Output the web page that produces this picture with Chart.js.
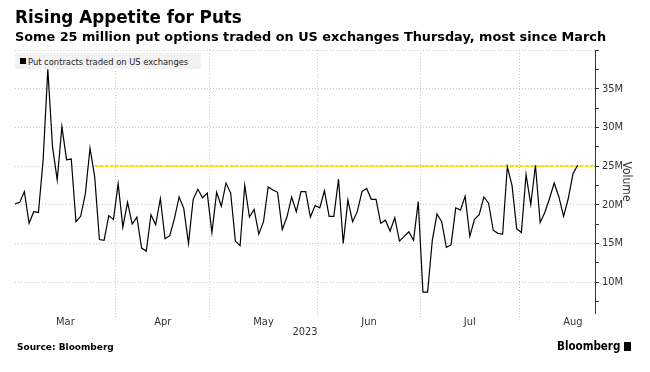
<!DOCTYPE html>
<html>
<head>
<meta charset="utf-8">
<script src="https://cdn.jsdelivr.net/npm/chart.js@4.4.0/dist/chart.umd.min.js"></script>
<style>
  body { margin: 0; background: #fff; }
  .wrap { position: relative; width: 650px; height: 372px; overflow: hidden; font-family: 'DejaVu Sans', Verdana, sans-serif; }
  #myChart { position: absolute; left: 0; top: 0; }
  .title { position: absolute; left: 15px; top: 7px; font-weight: bold; font-size: 16.8px; color: #000; white-space: nowrap; }
  .subtitle { position: absolute; left: 15px; top: 29px; font-weight: bold; font-size: 12.85px; color: #000; white-space: nowrap; }
  #legend-container { position: absolute; left: 15px; top: 53px; width: 186px; height: 16px; background: #f2f2f2; }
  #legend-container ul { list-style: none; margin: 0; padding: 0 0 0 5px; }
  #legend-container li { display: flex; align-items: center; height: 16px; font-size: 9.3px; color: #222; font-family: 'DejaVu Sans Condensed', 'DejaVu Sans', sans-serif; }
  #legend-container li span { display: inline-block; width: 6px; height: 6px; margin-right: 2px; }
  #legend-container li p { margin: 0; }
  .source { position: absolute; left: 17px; top: 342px; font-weight: bold; font-size: 9px; color: #000; }
  .brand { position: absolute; left: 557px; top: 339px; font-weight: bold; font-size: 11.5px; color: #000; font-family: 'DejaVu Sans Condensed', 'DejaVu Sans', sans-serif; }
  .brand i { display: inline-block; width: 7px; height: 9px; background: #000; margin-left: 4px; vertical-align: -1px; }
</style>
</head>
<body>
<div class="wrap">
  <canvas id="myChart" width="650" height="372"></canvas>
  <div class="title">Rising Appetite for Puts</div>
  <div class="subtitle">Some 25 million put options traded on US exchanges Thursday, most since March</div>
  <div id="legend-container"></div>
  <div class="source">Source: Bloomberg</div>
  <div class="brand">Bloomberg<i></i></div>
</div>
<script>
// weekdays from the first to the last day on the chart (holidays carry the previous value)
const startDate = '2023-03-02';
const endDate = '2023-08-17';
const axisEndDate = '2023-08-31';

// millions of put contracts per day
const volumes = [
    20.1, 20.3, 21.7, 17.6, 19.1, 19.0, 25.8, 37.5, 27.5, 23.2,
    30.1, 25.8, 25.9, 17.8, 18.5, 21.4, 27.3, 23.6, 15.5, 15.4,
    18.6, 18.1, 22.7, 17.1, 20.3, 17.5, 18.4, 14.4, 14.0, 18.7,
    17.4, 20.8, 15.6, 16.0, 18.2, 21.0, 19.5, 15.0, 20.7, 22.0,
    20.9, 21.5, 16.4, 21.6, 19.8, 22.8, 21.5, 15.3, 14.7, 22.5,
    18.4, 19.4, 16.2, 17.8, 22.3, 21.9, 21.6, 16.8, 18.4, 21.0,
    19.1, 21.7, 21.7, 18.4, 19.9, 19.6, 21.8, 18.5, 18.5, 23.3,
    15.0, 20.6, 17.8, 19.1, 21.7, 22.1, 20.7, 20.7, 17.6, 18.0,
    16.6, 18.3, 15.3, 15.9, 16.5, 15.4, 20.4, 8.7, 8.7, 15.4,
    18.8, 17.8, 14.5, 14.8, 19.6, 19.3, 21.1, 15.9, 18.1, 18.7,
    21.0, 20.2, 16.7, 16.3, 16.2, 24.9, 22.5, 16.9, 16.4, 23.9,
    20.0, 25.1, 17.7, 19.0, 20.8, 22.8, 21.0, 18.5, 20.8, 24.0,
    25.1
];

const seriesLabel = 'Put contracts traded on US exchanges';
const monthNames = ['Mar', 'Apr', 'May', 'Jun', 'Jul', 'Aug'];
const yearLabel = '2023';
const yTickValues = [7.5, 10, 12.5, 15, 17.5, 20, 22.5, 25, 27.5, 30, 32.5, 35, 37.5, 40];
const yLabelValues = [10, 15, 20, 25, 30, 35];
const yGridValues = [10, 15, 20, 25, 30, 35, 40];
const thresholdValue = 25;
const thresholdFrom = '2023-03-27';

function weekdays(from, to) {
    const out = [];
    const d = new Date(from + 'T00:00:00Z');
    const end = new Date(to + 'T00:00:00Z');
    while (d <= end) {
        const w = d.getUTCDay();
        if (w !== 0 && w !== 6) out.push(d.toISOString().slice(0, 10));
        d.setUTCDate(d.getUTCDate() + 1);
    }
    return out;
}

const allDays = weekdays(startDate, axisEndDate);
const dates = allDays.filter(d => d <= endDate);
const xMax = dates.length - 1 + 3.7;

// month boundaries sit half a day before each month's first weekday
const bounds = [0];
for (let i = 1; i < allDays.length; i++) {
    if (allDays[i].slice(5, 7) !== allDays[i - 1].slice(5, 7)) bounds.push(i - 0.5);
}
bounds.push(allDays.length - 0.5);

const xTicks = [];
bounds.slice(1, -1).forEach(b => xTicks.push({ value: b, label: '', grid: true }));
monthNames.forEach((m, i) => xTicks.push({ value: (bounds[i] + bounds[i + 1]) / 2, label: m, grid: false }));
xTicks.sort((a, b) => a.value - b.value);

const tickFont = { family: "'DejaVu Sans Condensed', 'DejaVu Sans', sans-serif", size: 11 };
const gridGrey = '#c9c9c9';

const ctx = document.getElementById('myChart');

const lineChart = new Chart(ctx, {
    type: 'line',
    data: {
        datasets: [
            {
                label: seriesLabel,
                data: volumes.map((v, i) => ({ x: i, y: v })),
                borderColor: '#000',
                backgroundColor: '#000',
                borderWidth: 1.2,
                pointRadius: 0,
                tension: 0,
            },
            {
                label: 'threshold',
                data: [
                    { x: dates.indexOf(thresholdFrom), y: thresholdValue },
                    { x: xMax, y: thresholdValue },
                ],
                borderColor: '#f5e500',
                borderWidth: 2,
                borderDash: [4, 1],
                pointRadius: 0,
            },
        ],
    },
    options: {
        responsive: false,
        animation: false,
        layout: { padding: { left: 15, top: 50, right: 17, bottom: 33 } },
        plugins: {
            legend: { display: false },
            tooltip: { enabled: false },
        },
        scales: {
            x: {
                type: 'linear',
                min: 0,
                max: xMax,
                afterBuildTicks: s => { s.ticks = xTicks.map(t => ({ value: t.value })); },
                afterFit: s => { s.height = 26; },
                ticks: {
                    autoSkip: false,
                    maxRotation: 0,
                    padding: -2,
                    color: '#333',
                    font: tickFont,
                    callback: (v, i) => xTicks[i].label,
                },
                grid: {
                    color: c => (xTicks[c.index] && xTicks[c.index].grid) ? gridGrey : 'transparent',
                    tickColor: c => (xTicks[c.index] && xTicks[c.index].grid) ? gridGrey : 'transparent',
                    tickLength: 5,
                    tickBorderDash: [1, 2],
                },
                border: { display: false, dash: [1, 2] },
                title: {
                    display: true,
                    text: yearLabel,
                    color: '#333',
                    font: tickFont,
                    padding: { top: 0, bottom: 0 },
                },
            },
            y: {
                position: 'right',
                min: 6,
                max: 40,
                afterBuildTicks: s => { s.ticks = yTickValues.map(v => ({ value: v })); },
                afterFit: s => { s.width = 38; },
                ticks: {
                    padding: 3,
                    color: '#333',
                    font: tickFont,
                    callback: v => yLabelValues.includes(v) ? v + 'M' : '',
                },
                grid: {
                    color: c => yGridValues.includes(c.tick.value) ? gridGrey : 'transparent',
                    tickColor: '#333',
                    tickLength: 4,
                },
                border: { display: true, color: '#333', width: 1, dash: [1, 2] },
                title: {
                    display: true,
                    text: 'Volume',
                    color: '#333',
                    font: { family: tickFont.family, size: 12 },
                    padding: { top: 0, bottom: 0 },
                },
            },
        },
    },
});

function generateLegend() {
    const box = document.getElementById('legend-container');
    const ul = document.createElement('ul');
    const ds = lineChart.data.datasets[0];
    const li = document.createElement('li');
    const colorBox = document.createElement('span');
    colorBox.style.backgroundColor = ds.borderColor;
    const textP = document.createElement('p');
    textP.appendChild(document.createTextNode(ds.label));
    li.appendChild(colorBox);
    li.appendChild(textP);
    ul.appendChild(li);
    box.appendChild(ul);
}

generateLegend();
</script>
</body>
</html>
